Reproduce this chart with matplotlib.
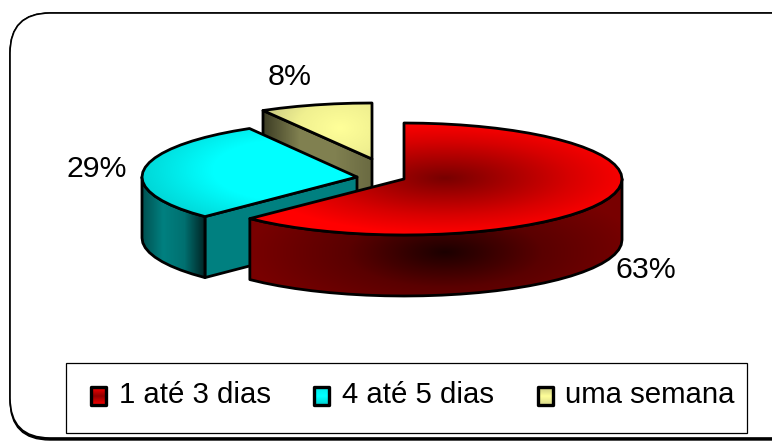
import numpy as np
import matplotlib
matplotlib.use("Agg")
import matplotlib.pyplot as plt
from matplotlib.colors import LinearSegmentedColormap
from matplotlib.patches import FancyBboxPatch, Polygon, Rectangle

plt.rcParams['font.family'] = ['Liberation Sans', 'DejaVu Sans']

categories = ["1 até 3 dias", "4 até 5 dias", "uma semana"]
counts = [15, 7, 2]

FS = 21.2
RY, DEPTH = 56, 61
W, H = 772, 441
LW = 2.0

fig = plt.figure(figsize=(7.72, 4.41), dpi=100)
ax = fig.add_axes([0, 0, 1, 1])
Y, X = np.mgrid[0:H, 0:W] + 0.5


def arc(cx, cy, rx, a0, a1, dy=0):
    # pie angle is clockwise from 12 o'clock, squashed to look tilted
    n = max(2, int(abs(a1 - a0) / 5) + 1)
    t = np.radians(np.linspace(a0, a1, n))
    return np.column_stack([cx + rx * np.sin(t), cy - RY * np.cos(t) + dy])


def shade(pts, t, colors, z, lw=LW):
    cmap = LinearSegmentedColormap.from_list("c", colors)
    im = ax.imshow(np.clip(t, 0, 1), cmap=cmap, vmin=0, vmax=1, extent=(0, W, H, 0),
                   aspect="auto", zorder=z, interpolation="bilinear")
    edge = Polygon(pts, closed=True, fc="none", ec="black", lw=lw, joinstyle="round", zorder=z + 0.5)
    ax.add_patch(edge)
    im.set_clip_path(edge)


def radial(cx, cy, a, b):
    return np.sqrt(((X - cx) / a) ** 2 + ((Y - cy) / b) ** 2)


# slice angles from the values
fracs = np.array(counts) / sum(counts)
ends = np.cumsum(fracs) * 360
starts = ends - fracs * 360
pct = [f"{int(f * 100 + 0.5)}%" for f in fracs]

# frame with shadow
ax.add_patch(FancyBboxPatch((50, 53), 772, 347, boxstyle="round,pad=40,rounding_size=40",
                            fc="black", ec="black", lw=1, zorder=0.1))
ax.add_patch(FancyBboxPatch((50, 53), 770, 345, boxstyle="round,pad=40,rounding_size=40",
                            fc="white", ec="black", lw=1.2, zorder=0.2))

# yellow slice
cx, cy, rx = 372, 159, 218
a0, a1 = starts[2], ends[2]
p0 = arc(cx, cy, rx, a0, a0)[0]
shade([p0, (cx, cy), (cx, cy + DEPTH), p0 + (0, DEPTH)], (X - 263) / 109,
      ["#3c3c24", "#808050", "#808050", "#6a6a42"], 1)
shade(np.vstack([arc(cx, cy, rx, a0, a1), [(cx, cy)]]), radial(340, 128, 85, 55),
      ["#ffff99", "#f0f090", "#c4c480"], 2)

# cyan slice
cx, cy, rx = 357, 177, 215
a0, a1 = starts[1], ends[1]
p0 = arc(cx, cy, rx, a0, a0)[0]
ax.add_patch(Polygon([p0, (cx, cy), (cx, cy + DEPTH), p0 + (0, DEPTH)], closed=True,
                     fc="#008080", ec="black", lw=LW, joinstyle="round", zorder=3))
wall = arc(cx, cy, rx, a0, 270)
shade(np.vstack([wall, (wall + (0, DEPTH))[::-1]]), (X - 142) / 64,
      ["#005050", "#008080", "#007070", "#002020"], 4)
shade(np.vstack([arc(cx, cy, rx, a0, a1), [(cx, cy)]]), radial(290, 170, 155, 62),
      ["#00ffff", "#00ffff", "#00d4d4"], 5)

# red slice
cx, cy, rx = 404, 179, 218
a0, a1 = starts[0], ends[0]
wall = arc(cx, cy, rx, 90, a1)
shade(np.vstack([wall, (wall + (0, DEPTH))[::-1]]), radial(445, 252, 195, 70),
      ["#1c0000", "#5a0000", "#780000"], 6)
shade(np.vstack([arc(cx, cy, rx, a0, a1), [(cx, cy)]]), radial(445, 178, 190, 56),
      ["#780000", "#a80000", "#d80000", "#ff0000"], 7)

# value labels
for txt, px, py in zip(pct, (646, 97, 290), (270, 169, 77)):
    ax.text(px, py, txt, fontsize=21.8, ha="center", va="center", color="black", zorder=9)

# legend
ax.add_patch(Rectangle((66, 363), 681, 70, fc="white", ec="black", lw=0.9, zorder=8))
swatches = (["#ff0000", "#900000", "#ff0000"], ["#00e8e8", "#00ffff", "#00d0d0"],
            ["#c8c880", "#ffff99", "#d8d88a"])
for name, sx, tx, cols in zip(categories, (91, 314, 538), (119, 342, 565), swatches):
    pts = [(sx, 387), (sx + 15, 387), (sx + 15, 405), (sx, 405)]
    shade(pts, (Y - 387) / 18, cols, 9, lw=2.4)
    ax.text(tx, 403, name, fontsize=FS, ha="left", va="baseline", color="black", zorder=10)

ax.set_xlim(0, W)
ax.set_ylim(H, 0)
ax.axis("off")
fig.savefig("out.png", dpi=100, facecolor="white")
